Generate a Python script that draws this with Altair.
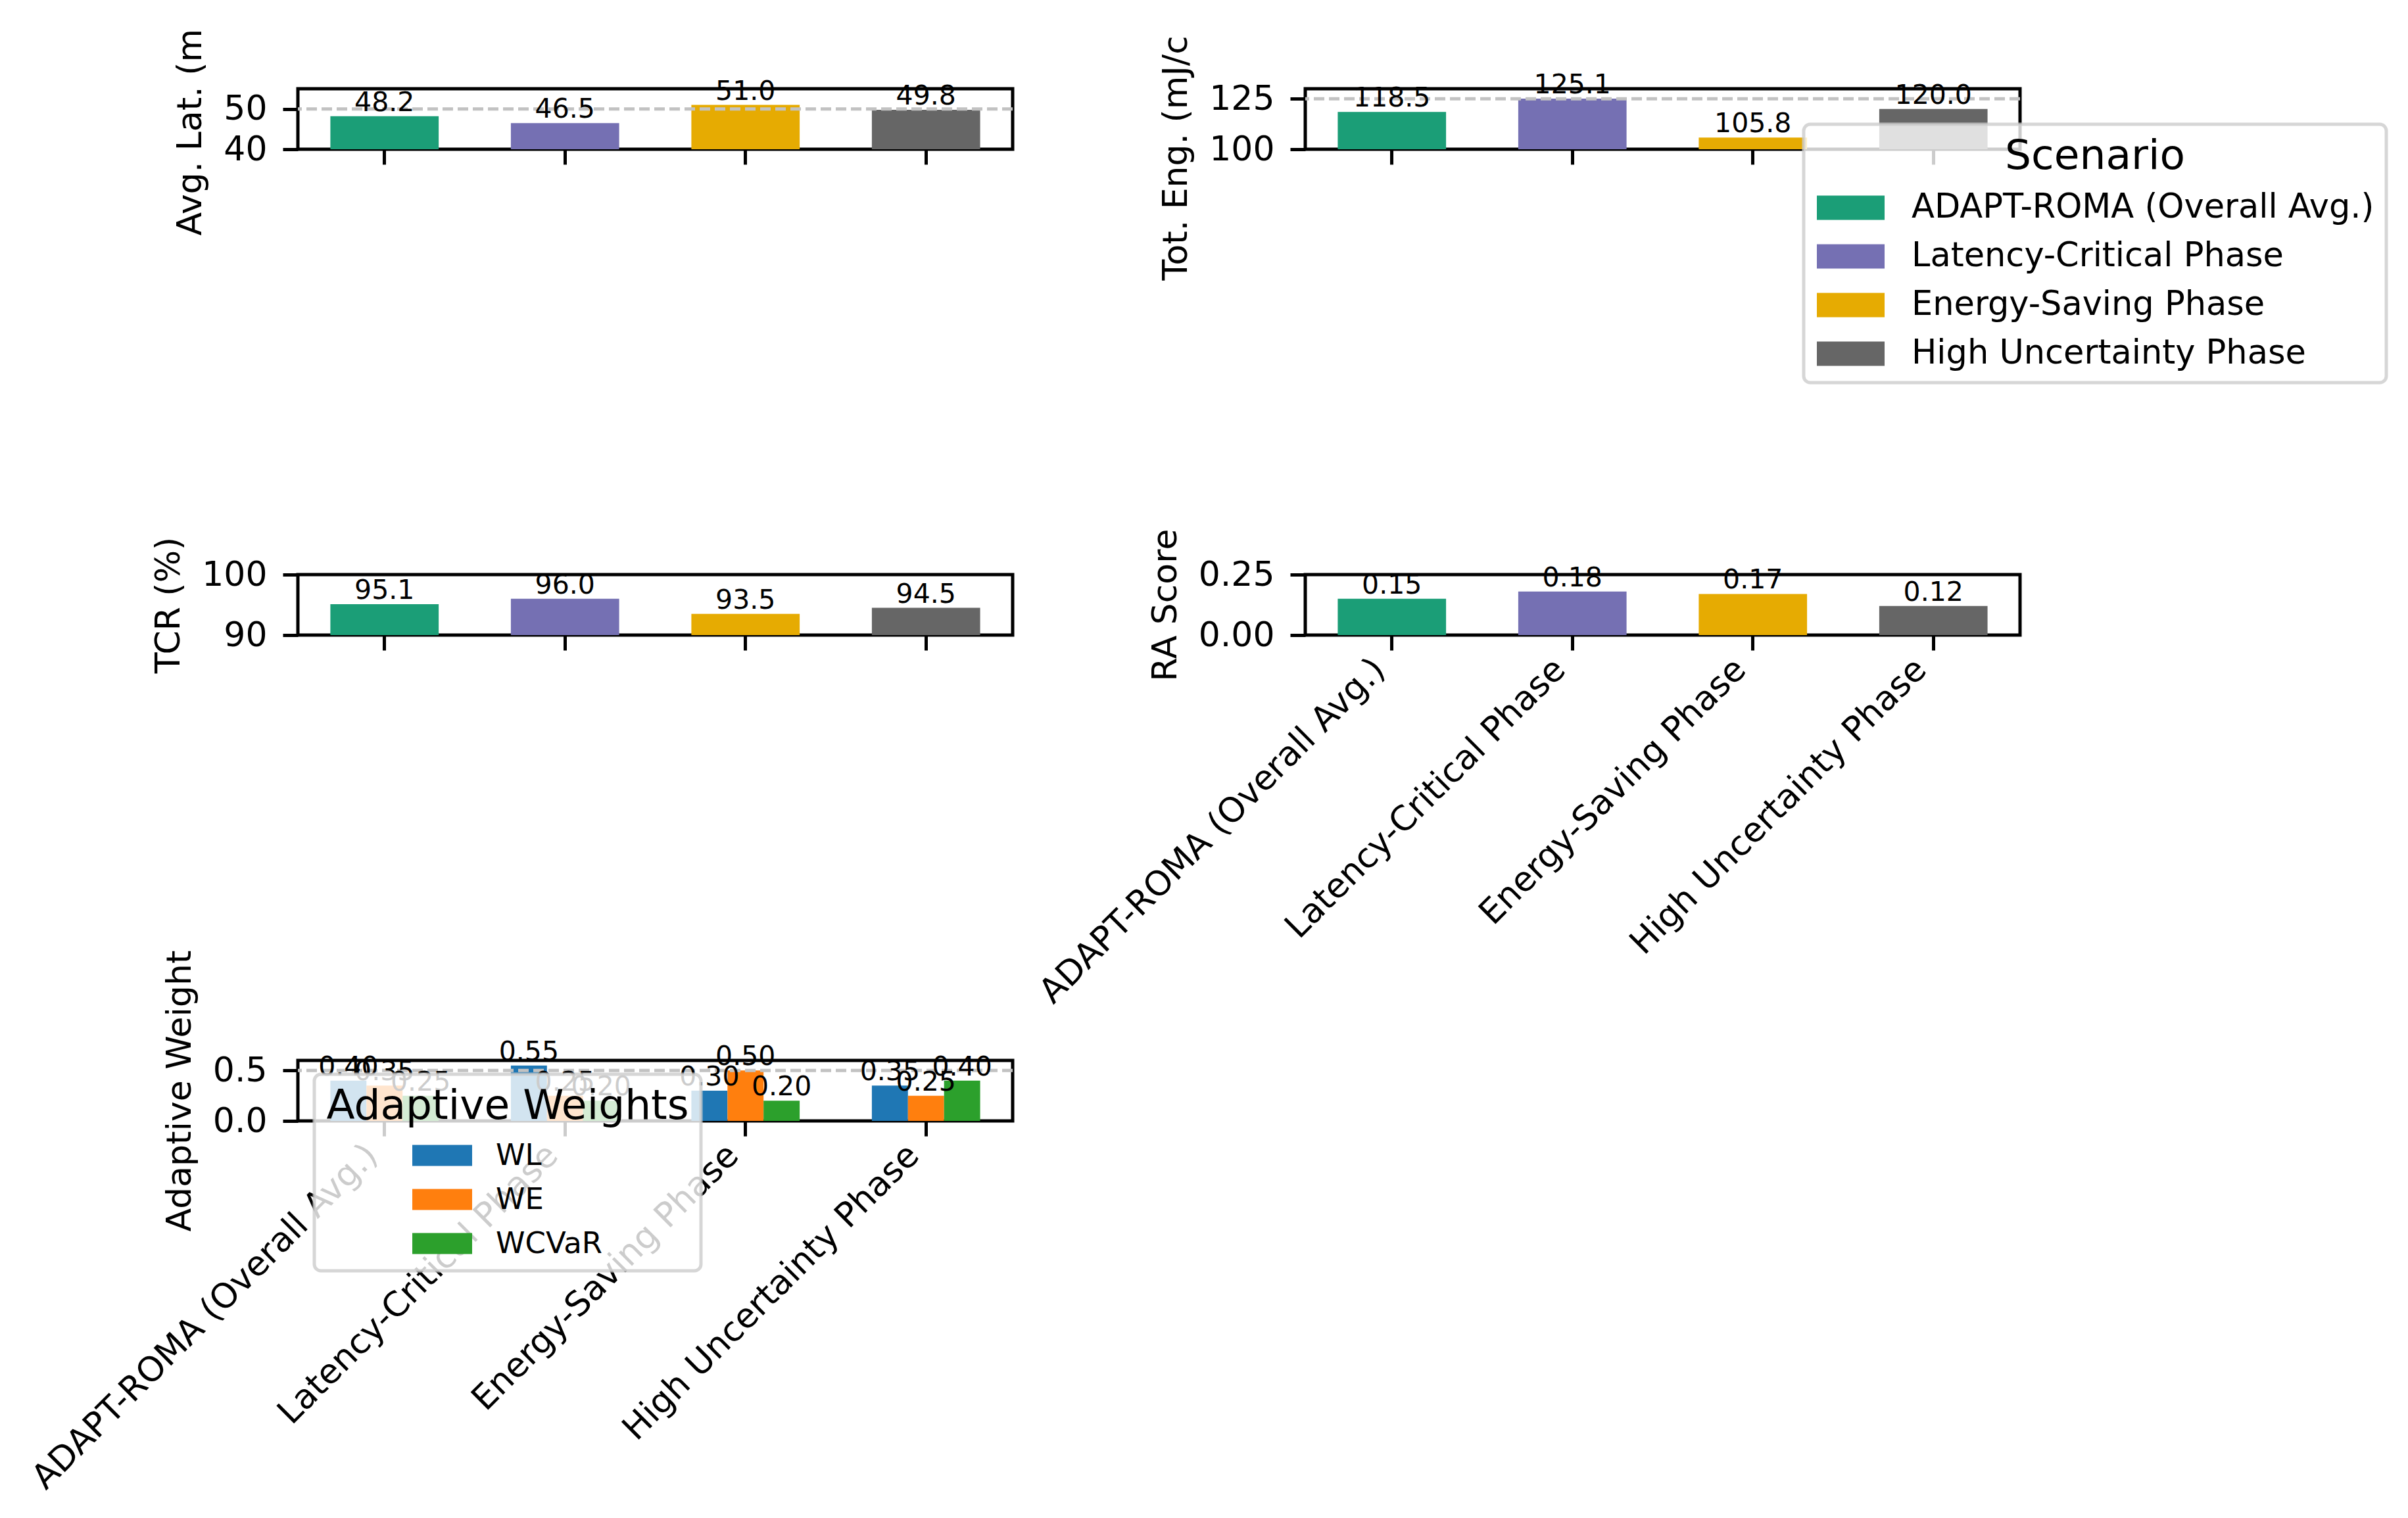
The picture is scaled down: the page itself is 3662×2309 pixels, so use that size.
import altair as alt
import pandas as pd

# scenario order and colours
scenarios = [
    "ADAPT-ROMA (Overall Avg.)",
    "Latency-Critical Phase",
    "Energy-Saving Phase",
    "High Uncertainty Phase",
]
scenario_colors = ["#1b9e77", "#7570b3", "#e6ab02", "#666666"]

# metric values
avg_latency = [48.2, 46.5, 51.0, 49.8]
total_energy = [118.5, 125.1, 105.8, 120.0]
tcr = [95.1, 96.0, 93.5, 94.5]
ra_score = [0.15, 0.18, 0.17, 0.12]

# adaptive weights per scenario
weight_names = ["WL", "WE", "WCVaR"]
weight_colors = ["#1f77b4", "#ff7f0e", "#2ca02c"]
w_l = [0.40, 0.55, 0.30, 0.35]
w_e = [0.35, 0.25, 0.50, 0.25]
w_cvar = [0.25, 0.20, 0.20, 0.40]

W, H = 1087, 92

metrics = pd.DataFrame({
    "scenario": scenarios,
    "latency": avg_latency,
    "energy": total_energy,
    "tcr": tcr,
    "ra": ra_score,
})

weights = pd.DataFrame({
    "scenario": scenarios * 3,
    "weight": [n for n in weight_names for _ in scenarios],
    "value": w_l + w_e + w_cvar,
})


def x_enc(show_labels):
    return alt.X(
        "scenario:N", sort=scenarios, title=None,
        scale=alt.Scale(paddingInner=0.4, paddingOuter=0.18),
        axis=alt.Axis(labels=show_labels, labelAngle=-45, labelAlign="right",
                      labelBaseline="bottom", labelPadding=40, labelLimit=3000,
                      labelOverlap=False),
    )


def y_enc(field, title, domain, ticks, fmt, title_y=None):
    axis_kw = dict(values=ticks, format=fmt, title=title, labelOverlap=False)
    # the two top titles are cut off at the top edge in the original
    if title_y is not None:
        axis_kw.update(titleAlign="left", titleY=title_y)
    return alt.Y(f"{field}:Q", stack=None,
                 scale=alt.Scale(domain=domain, zero=False, nice=False),
                 axis=alt.Axis(**axis_kw))


def target_line(value):
    return (
        alt.Chart(pd.DataFrame({"t": [value]}))
        .mark_rule(color="#c2c2c2", strokeWidth=5, strokeDash=[16, 7])
        .encode(y=alt.datum(value))
    )


def metric_panel(field, title, domain, ticks, fmt, text_fmt, target=None,
                 show_x=False, legend=None, title_y=None):
    base = alt.Chart(metrics)
    x = x_enc(show_x)
    y = y_enc(field, title, domain, ticks, fmt, title_y)
    bars = base.mark_bar(clip=True).encode(
        x=x, y=y,
        color=alt.Color("scenario:N", sort=scenarios,
                        scale=alt.Scale(domain=scenarios, range=scenario_colors),
                        legend=legend),
    )
    layers = [bars]
    if target is not None:
        layers.append(target_line(target))
    labels = base.mark_text(baseline="alphabetic", dy=-8, fontSize=41, color="black").encode(
        x=x, y=y, text=alt.Text(f"{field}:Q", format=text_fmt)
    )
    layers.append(labels)
    return alt.layer(*layers).properties(width=W, height=H)


legend_box = dict(
    orient="none", padding=18, titlePadding=20, titleFontWeight="normal",
    fillColor="rgba(255,255,255,0.8)", strokeColor="rgba(204,204,204,0.8)",
    cornerRadius=10, symbolStrokeWidth=0, labelLimit=3000, titleLimit=3000,
)

scenario_legend = alt.Legend(
    title="Scenario", legendX=758, legendY=54, titleAnchor="middle",
    symbolType="M-1,-0.36H1V0.36H-1Z", symbolSize=10609,
    clipHeight=52, rowPadding=22, labelFontSize=51, titleFontSize=63,
    symbolOffset=2, labelOffset=41, **legend_box,
)

# entries sit centred under the wide title
weights_legend = alt.Legend(
    title="Adaptive Weights", legendX=25, legendY=21, titleAnchor="middle",
    symbolType="M-1,-0.35H1V0.35H-1Z", symbolSize=8281,
    clipHeight=45, rowPadding=21, labelFontSize=45, titleFontSize=63,
    symbolOffset=0, labelOffset=36, **legend_box,
)

p_lat = metric_panel("latency", "Avg. Lat. (m", [40, 55], [40, 50], "d", ".1f",
                     target=50, title_y=223)
p_eng = metric_panel("energy", "Tot. Eng. (mJ/c", [100, 130], [100, 125], "d", ".1f",
                     target=125, legend=scenario_legend, title_y=291)
p_tcr = metric_panel("tcr", "TCR (%)", [90, 100], [90, 100], "d", ".1f")
p_ra = metric_panel("ra", "RA Score", [0, 0.25], [0, 0.25], ".2f", ".2f", show_x=True)

# grouped weight bars
wx = x_enc(True)
wy = alt.Y("value:Q", stack=None, scale=alt.Scale(domain=[0, 0.6], nice=False),
           axis=alt.Axis(values=[0, 0.5], format=".1f", title="Adaptive Weight",
                         labelOverlap=False))
woff = alt.XOffset("weight:N", sort=weight_names,
                   scale=alt.Scale(paddingInner=0, paddingOuter=0))
w_base = alt.Chart(weights)
w_bars = w_base.mark_bar().encode(
    x=wx, xOffset=woff, y=wy,
    color=alt.Color("weight:N", sort=weight_names,
                    scale=alt.Scale(domain=weight_names, range=weight_colors),
                    legend=weights_legend),
)
w_text = w_base.mark_text(baseline="alphabetic", dy=-8, fontSize=41, color="black").encode(
    x=wx, xOffset=woff, y=wy, text=alt.Text("value:Q", format=".2f")
)
p_w = alt.layer(w_bars, target_line(0.5), w_text).properties(width=W, height=H)

chart = (
    alt.concat(p_lat, p_eng, p_tcr, p_ra, p_w, columns=2, bounds="flush",
               spacing=alt.RowColnumber(row=647, column=445))
    .resolve_scale(color="independent")
    .properties(padding={"left": 29, "top": 32, "right": 5, "bottom": 5})
    .configure(font="DejaVu Sans", background="white")
    .configure_view(stroke="black", strokeWidth=5)
    .configure_axis(
        domain=False, grid=False, tickColor="black", tickWidth=5, tickSize=23,
        labelFont="DejaVu Sans", titleFont="DejaVu Sans",
        labelFontSize=52, titleFontSize=52, titleFontWeight="normal",
        labelColor="black", titleColor="black", labelPadding=24, titlePadding=23,
    )
    .configure_legend(
        labelFont="DejaVu Sans", titleFont="DejaVu Sans",
        labelColor="black", titleColor="black", strokeWidth=5,
    )
)

chart.save("out.html", embed_options={"renderer": "svg", "actions": False})
